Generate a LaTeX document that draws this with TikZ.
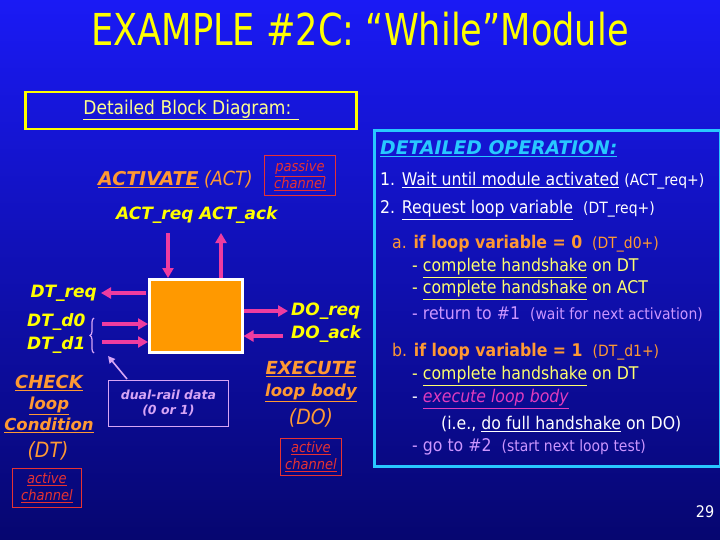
\documentclass[tikz,border=0pt]{standalone}
\usepackage{fontspec}
\setmainfont{DejaVu Sans}
\newfontfamily\tah[FakeStretch=0.9]{DejaVu Sans}
\newfontfamily\ttlf[FakeStretch=0.8]{DejaVu Sans}
\newfontfamily\verd{DejaVu Sans}
\usetikzlibrary{arrows.meta,decorations.pathreplacing}
\definecolor{bgtop}{RGB}{26,26,245}
\definecolor{bgbot}{RGB}{6,6,112}
\definecolor{ttl}{RGB}{255,255,0}
\definecolor{paley}{RGB}{255,255,140}
\definecolor{org}{RGB}{255,153,51}
\definecolor{chred}{RGB}{230,50,50}
\definecolor{pnk}{RGB}{238,60,160}
\definecolor{lil}{RGB}{215,165,245}
\definecolor{cyn}{RGB}{40,200,255}
\definecolor{vio}{RGB}{204,150,255}
\definecolor{mag}{RGB}{225,60,190}
\definecolor{hsy}{RGB}{255,255,110}
\definecolor{boxorg}{RGB}{255,153,0}
\tikzset{
  lbl/.style={font=\verd\bfseries\itshape\fontsize{17}{19}\selectfont, text=ttl, inner sep=0pt},
  chan/.style={draw=chred, line width=0.8pt, text=chred, font=\tah\itshape\fontsize{14.5}{17}\selectfont, align=center, inner sep=1pt},
  orgtxt/.style={text=org, font=\verd\bfseries\itshape\fontsize{16.5}{18}\selectfont, inner sep=0pt},
  orgpl/.style={text=org, font=\tah\itshape\fontsize{21}{22}\selectfont, inner sep=0pt},
  sig/.style={draw=pnk, line width=3.5pt, -{Triangle[length=10pt,width=11pt]}},
  op/.style={anchor=west, inner sep=0pt, text=white, font=\tah\fontsize{17.5}{19}\selectfont},
}
\newcommand{\sm}[1]{{\fontsize{15.5}{17}\selectfont #1}}
\begin{document}
\begin{tikzpicture}[x=1pt,y=-1pt]
\shade[top color=bgtop, bottom color=bgbot] (0,0) rectangle (720,540);
\useasboundingbox (0,0) rectangle (720,540);
% title
\node (title) at (360,29) {\ttlf\fontsize{44}{48}\selectfont\color{ttl}EXAMPLE \#2C: “While”Module};
% detailed block diagram box
\node[draw=ttl, line width=2.5pt, minimum width=331pt, minimum height=37pt, anchor=north west, inner sep=0pt] (dbd) at (24,91) {};
\node[text=paley, font=\tah\fontsize{19}{21}\selectfont] (dbdt) at (191,110) {\underline{Detailed Block Diagram: }};
% activate
\node[anchor=west, inner sep=0pt] (act) at (98,179) {\textcolor{org}{\verd\bfseries\itshape\fontsize{19}{20}\selectfont\underline{ACTIVATE}}\textcolor{org}{\tah\itshape\fontsize{19.5}{20}\selectfont\ (ACT)}};
\node[chan, anchor=north west, minimum width=71pt, minimum height=40pt] (pch) at (264,155) {\underline{passive}\\\underline{channel}};
\node[lbl, anchor=west] (actsig) at (116,215) {ACT\_req ACT\_ack};
% block
\node[draw=white, line width=2.5pt, fill=boxorg, minimum width=93pt, minimum height=73pt, anchor=north west, inner sep=0pt] (blk) at (148,278) {};
\coordinate (actreqend) at (168,233);
\coordinate (actackend) at (221,233);
\draw[sig] (actreqend) -- (actreqend |- blk.north);
\draw[sig] (actackend |- blk.north) -- (actackend);
% left signals
\coordinate (dtreqend) at (101,293);
\coordinate (dtd0s) at (102,324);
\coordinate (dtd1s) at (102,342);
\draw[sig] (dtreqend -| blk.west) ++(-2,0) -- (dtreqend);
\draw[sig] (dtd0s) -- (dtd0s -| blk.west);
\draw[sig] (dtd1s) -- (dtd1s -| blk.west);
\node[lbl, anchor=east] (dtreq) at (97,293) {DT\_req};
\node[lbl, anchor=west] (dtd0) at (27,322) {DT\_d0};
\node[lbl, anchor=west] (dtd1) at (27,345) {DT\_d1};
\draw[lil, line width=1.2pt, decorate, decoration={brace, amplitude=4pt}] (94,353) -- (94,318);
% right signals
\coordinate (doreqend) at (288,311);
\coordinate (doacks) at (283,336);
\draw[sig] (doreqend -| blk.east) -- (doreqend);
\draw[sig] (doacks) -- (doacks -| blk.east);
\node[lbl, anchor=west] (doreq) at (291,311) {DO\_req};
\node[lbl, anchor=west] (doack) at (291,334) {DO\_ack};
% dual rail box
\node[draw=lil, line width=0.8pt, text=lil, font=\verd\bfseries\itshape\fontsize{12.5}{15}\selectfont, align=center, minimum width=120pt, minimum height=46pt, anchor=north west, inner sep=0pt] (dual) at (108,380) {dual-rail data\\(0 or 1)};
\coordinate (bracept) at (108,356);
\draw[lil, line width=1.6pt, -{Triangle[length=7pt,width=7pt]}] (127,379) -- (bracept);
% check
\node[orgtxt, align=center, anchor=north] (check) at (49,375) {\underline{\fontsize{18}{19}\selectfont CHECK}\\[3pt]\underline{loop}\\[3pt]\underline{Condition}};
\node[orgpl] (dt) at (48,451) {(DT)};
\node[chan, anchor=north west, minimum width=69pt, minimum height=39pt] (ach1) at (12,468) {\underline{active}\\\underline{channel}};
% execute
\node[orgtxt, align=center, anchor=north] (exec) at (311,361) {\underline{\fontsize{18}{19}\selectfont EXECUTE}\\[4pt]\underline{loop body}};
\node[orgpl] (do) at (311,418) {(DO)};
\node[chan, anchor=north west, minimum width=61pt, minimum height=37pt] (ach2) at (280,438) {\underline{active}\\\underline{channel}};
% right panel
\node[draw=cyn, line width=3pt, minimum width=346pt, minimum height=336pt, anchor=north west, inner sep=0pt] (panel) at (373,129) {};
\node[anchor=west, inner sep=0pt, text=cyn, font=\verd\bfseries\itshape\fontsize{18.8}{20}\selectfont] (dop) at (380,149) {\underline{DETAILED OPERATION:}};
\node[op] (o1) at (380,181) {1. \underline{Wait until module activated} \sm{(ACT\_req+)}};
\node[op] (o2) at (380,210) {2. \underline{Request loop variable}\ \ \sm{(DT\_req+)}};
\node[op, text=org] (oa) at (392,244) {a. \textbf{if loop variable = 0}\ \ \sm{(DT\_d0+)}};
\node[op, text=hsy] (oa1) at (412,268) {- \underline{complete handshake} on DT};
\node[op, text=hsy] (oa2) at (412,290) {- \underline{complete handshake} on ACT};
\node[op, text=vio] (oa3) at (412,314) {- return to \#1\ \ \sm{(wait for next activation)}};
\node[op, text=org] (ob) at (392,352) {b. \textbf{if loop variable = 1}\ \ \sm{(DT\_d1+)}};
\node[op, text=hsy] (ob1) at (412,376) {- \underline{complete handshake} on DT};
\node[op] (ob2) at (412,399) {- \textcolor{mag}{\itshape\underline{execute loop body}}};
\node[op] (ob3) at (441,424) {(i.e., \underline{do full handshake} on DO)};
\node[op, text=vio] (ob4) at (412,447) {- go to \#2\ \ \sm{(start next loop test)}};
\node[text=white, font=\tah\fontsize{16}{18}\selectfont] (pg) at (705,512) {29};
\end{tikzpicture}
\end{document}
